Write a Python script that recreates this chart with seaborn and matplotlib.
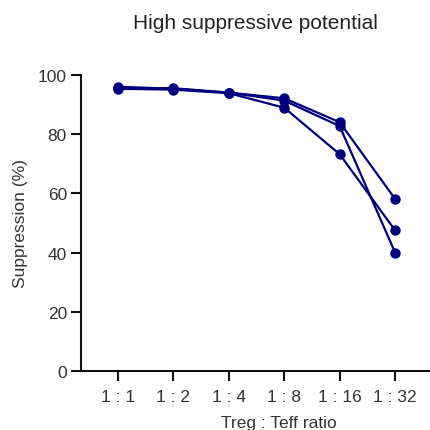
import numpy as np
import pandas as pd
import matplotlib
matplotlib.use('Agg')
import matplotlib.pyplot as plt
import seaborn as sns

ratios = ['1 : 1', '1 : 2', '1 : 4', '1 : 8', '1 : 16', '1 : 32']
donor_a = [96.0, 95.3, 94.0, 92.1, 84.0, 58.1]
donor_b = [95.5, 95.5, 94.0, 91.3, 82.7, 40.0]
donor_c = [95.3, 95.0, 93.8, 88.9, 73.2, 47.5]

df = pd.DataFrame({
    'ratio': ratios * 3,
    'value': donor_a + donor_b + donor_c,
    'donor': ['A'] * 6 + ['B'] * 6 + ['C'] * 6,
})

sns.set_style('ticks')
plt.rcParams['font.family'] = ['Liberation Sans', 'DejaVu Sans']

fig = plt.figure(figsize=(4.30, 4.31), dpi=100)
ax = fig.add_axes([0.188, 0.137, 0.812, 0.687])

sns.lineplot(data=df, x='ratio', y='value', units='donor', estimator=None,
             color='#00007f', marker='o', markersize=7.5, markeredgewidth=0,
             linewidth=1.6, ax=ax, clip_on=False)

ax.set_xlim(-0.67, 5.63)
ax.set_ylim(0, 100)
ax.set_yticks([0, 20, 40, 60, 80, 100])
ax.spines['top'].set_visible(False)
ax.spines['right'].set_visible(False)
for s in ['left', 'bottom']:
    ax.spines[s].set_linewidth(1.5)
    ax.spines[s].set_color('#111111')
ax.tick_params(axis='both', length=7, width=1.5, color='#111111',
               labelsize=12.5, labelcolor='#333333', pad=3)
ax.tick_params(axis='x', pad=6)

ax.set_xlabel('Treg : Teff ratio', fontsize=12.5, color='#333333')
ax.xaxis.set_label_coords(0.567, -0.15)
ax.set_ylabel('Suppression (%)', fontsize=12.5, color='#333333', labelpad=7)
ax.set_title('High suppressive potential', fontsize=15, color='#222222', pad=34)

fig.savefig('out.png', dpi=100)
